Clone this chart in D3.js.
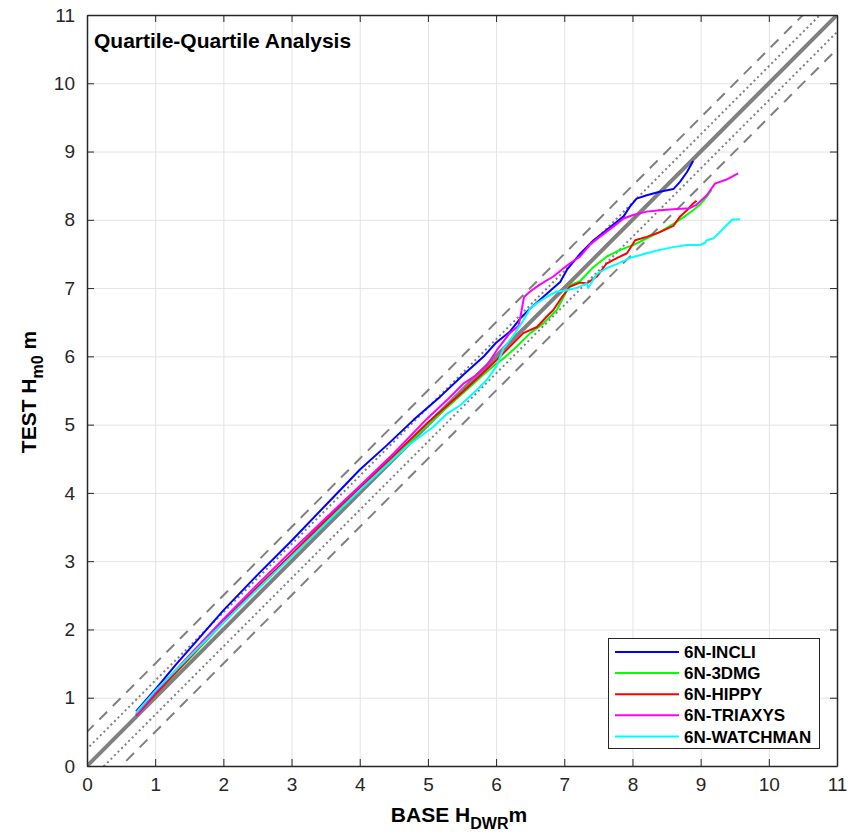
<!DOCTYPE html>
<html><head><meta charset="utf-8">
<script src="https://cdn.jsdelivr.net/npm/d3@7"></script>
<style>
body{margin:0;background:#fff}
text{font-family:"Liberation Sans",Arial,Helvetica,sans-serif}
</style>
</head><body>
<svg id="c" width="857" height="837"></svg>
<script>
// ---------- data ----------
const xTicks = [0,1,2,3,4,5,6,7,8,9,10,11];
const yTicks = [0,1,2,3,4,5,6,7,8,9,10,11];
const seriesNames = ["6N-INCLI","6N-3DMG","6N-HIPPY","6N-TRIAXYS","6N-WATCHMAN"];
const seriesColors = ["#0000ff","#00ff00","#ff0000","#ff00ff","#00ffff"];
const refOffsets = [0, 0.25, -0.25, 0.5, -0.5];

const incli = [[0.72,0.80],[0.85,0.95],[1.0,1.12],[1.3,1.48],[1.58,1.80],[2.0,2.28],[2.5,2.80],[3.0,3.30],[3.5,3.82],[4.0,4.34],[4.4,4.70],[4.79,5.07],[5.18,5.41],[5.52,5.73],[5.81,5.99],[6.0,6.2],[6.2,6.36],[6.35,6.55],[6.5,6.7],[6.69,6.87],[6.94,7.09],[7.04,7.27],[7.23,7.50],[7.43,7.70],[7.62,7.85],[7.87,8.05],[7.96,8.19],[8.06,8.31],[8.21,8.36],[8.40,8.41],[8.60,8.45],[8.70,8.56],[8.80,8.70],[8.89,8.86]];
const dmg = [[0.72,0.75],[1.0,1.05],[1.5,1.57],[2.0,2.10],[2.5,2.60],[3.0,3.08],[3.5,3.58],[4.0,4.07],[4.5,4.53],[5.0,5.0],[5.5,5.45],[5.8,5.72],[5.96,5.86],[6.11,5.97],[6.30,6.14],[6.50,6.34],[6.69,6.48],[6.89,6.68],[6.99,6.87],[7.08,7.04],[7.23,7.10],[7.43,7.31],[7.62,7.46],[7.82,7.56],[8.01,7.63],[8.21,7.73],[8.40,7.82],[8.60,7.94],[8.75,8.04],[8.89,8.14],[8.99,8.22],[9.09,8.34],[9.16,8.44]];
const hippy = [[0.72,0.74],[1.0,1.05],[1.5,1.58],[2.0,2.12],[2.5,2.62],[3.0,3.10],[3.5,3.60],[4.0,4.08],[4.5,4.55],[5.0,5.03],[5.5,5.47],[5.8,5.75],[6.01,5.95],[6.2,6.14],[6.4,6.34],[6.6,6.43],[6.74,6.58],[6.84,6.68],[6.94,6.83],[7.08,7.02],[7.23,7.08],[7.33,7.07],[7.48,7.17],[7.62,7.36],[7.77,7.44],[7.92,7.51],[8.04,7.70],[8.21,7.75],[8.40,7.82],[8.60,7.91],[8.70,8.05],[8.80,8.14],[8.89,8.24],[8.94,8.28]];
const triaxys = [[0.72,0.75],[1.0,1.08],[1.5,1.62],[2.0,2.15],[2.5,2.66],[3.0,3.15],[3.5,3.63],[4.0,4.10],[4.5,4.58],[4.98,5.08],[5.3,5.38],[5.52,5.60],[5.7,5.72],[5.86,5.86],[6.01,6.09],[6.2,6.34],[6.33,6.45],[6.37,6.65],[6.41,6.87],[6.5,6.95],[6.64,7.05],[6.84,7.17],[6.99,7.29],[7.08,7.36],[7.23,7.46],[7.38,7.64],[7.52,7.75],[7.72,7.90],[7.87,8.02],[8.01,8.07],[8.21,8.12],[8.40,8.14],[8.65,8.16],[8.84,8.17],[8.94,8.22],[9.09,8.36],[9.21,8.53],[9.38,8.59],[9.55,8.68]];
const watchman = [[0.72,0.78],[1.0,1.10],[1.5,1.60],[2.0,2.10],[2.5,2.59],[3.0,3.07],[3.5,3.55],[4.0,4.04],[4.5,4.50],[4.69,4.68],[5.08,4.97],[5.28,5.16],[5.47,5.28],[5.72,5.51],[5.86,5.65],[6.01,5.86],[6.11,6.12],[6.25,6.30],[6.40,6.53],[6.50,6.70],[6.60,6.78],[6.74,6.87],[6.89,6.95],[7.04,6.97],[7.18,7.00],[7.33,7.07],[7.35,7.00],[7.48,7.21],[7.62,7.29],[7.77,7.35],[7.96,7.44],[8.21,7.51],[8.40,7.56],[8.60,7.60],[8.80,7.63],[8.99,7.63],[9.06,7.66],[9.09,7.70],[9.19,7.73],[9.24,7.78],[9.33,7.87],[9.46,8.00],[9.58,8.01]];
const seriesData = [incli, dmg, hippy, triaxys, watchman];

// ---------- layout ----------
const L = 87, R = 837, T = 15, B = 766;
const svg = d3.select("#c");
const x = d3.scaleLinear().domain([0,11]).range([L,R]);
const y = d3.scaleLinear().domain([0,11]).range([B,T]);

svg.append("defs").append("clipPath").attr("id","clip")
  .append("rect").attr("x",L).attr("y",T).attr("width",R-L).attr("height",B-T);

// grid
const grid = svg.append("g");
grid.append("g").attr("transform",`translate(0,${B})`)
  .call(d3.axisBottom(x).tickValues(xTicks).tickSize(-(B-T)).tickFormat(""))
  .call(g=>{g.select(".domain").remove(); g.selectAll("line").attr("stroke","#e3e3e3").attr("stroke-width",1);});
grid.append("g").attr("transform",`translate(${L},0)`)
  .call(d3.axisLeft(y).tickValues(yTicks).tickSize(-(R-L)).tickFormat(""))
  .call(g=>{g.select(".domain").remove(); g.selectAll("line").attr("stroke","#e3e3e3").attr("stroke-width",1);});

// reference lines
const plot = svg.append("g").attr("clip-path","url(#clip)");
const refStyles = [
  {w:4, dash:null},
  {w:2, dash:"2,3"},
  {w:2, dash:"2,3"},
  {w:2, dash:"11,8"},
  {w:2, dash:"11,8"}
];
refOffsets.forEach((o,i)=>{
  plot.append("line")
    .attr("x1",x(-1)).attr("y1",y(-1+o))
    .attr("x2",x(12)).attr("y2",y(12+o))
    .attr("stroke","#808080").attr("stroke-width",refStyles[i].w)
    .attr("stroke-dasharray",refStyles[i].dash);
});

// series
const line = d3.line().x(d=>x(d[0])).y(d=>y(d[1]));
seriesData.forEach((s,i)=>{
  plot.append("path").attr("d",line(s)).attr("fill","none")
    .attr("stroke",seriesColors[i]).attr("stroke-width",2).attr("stroke-linejoin","round");
});

// axes (ticks inward on all four sides)
const axCol = "#262626";
function styleAxis(g){
  g.select(".domain").attr("stroke",axCol).attr("stroke-width",1.5);
  g.selectAll(".tick line").attr("stroke",axCol).attr("stroke-width",1);
  g.selectAll("text").attr("fill",axCol).style("font-size","19px");
}
svg.append("g").attr("transform",`translate(0,${B})`)
  .call(d3.axisBottom(x).tickValues(xTicks).tickSizeInner(-7).tickSizeOuter(0).tickPadding(12))
  .call(styleAxis);
svg.append("g").attr("transform",`translate(0,${T})`)
  .call(d3.axisTop(x).tickValues(xTicks).tickSizeInner(-7).tickSizeOuter(0).tickFormat(""))
  .call(styleAxis);
svg.append("g").attr("transform",`translate(${L},0)`)
  .call(d3.axisLeft(y).tickValues(yTicks).tickSizeInner(-7).tickSizeOuter(0).tickPadding(12))
  .call(styleAxis);
svg.append("g").attr("transform",`translate(${R},0)`)
  .call(d3.axisRight(y).tickValues(yTicks).tickSizeInner(-7).tickSizeOuter(0).tickFormat(""))
  .call(styleAxis);

// title inside plot
svg.append("text").attr("x",94).attr("y",48).attr("font-weight","bold")
  .style("font-size","21px").attr("fill","#000").text("Quartile-Quartile Analysis");

// axis labels
const xl = svg.append("text").attr("x",459).attr("y",822).attr("text-anchor","middle")
  .attr("font-weight","bold").style("font-size","21px").attr("fill","#000");
xl.append("tspan").text("BASE H");
xl.append("tspan").attr("dy",7).style("font-size","16px").text("DWR");
xl.append("tspan").attr("dy",-7).text("m");

const yl = svg.append("text").attr("transform","translate(36,392) rotate(-90)").attr("text-anchor","middle")
  .attr("font-weight","bold").style("font-size","21px").attr("fill","#000");
yl.append("tspan").text("TEST H");
yl.append("tspan").attr("dy",7).style("font-size","16px").text("m0");
yl.append("tspan").attr("dy",-7).text(" m");

// legend
const lg = svg.append("g");
lg.append("rect").attr("x",608.5).attr("y",638.5).attr("width",211).attr("height",110)
  .attr("fill","#fff").attr("stroke",axCol).attr("stroke-width",1);
seriesNames.forEach((n,i)=>{
  const yy = 652 + i*21.1;
  lg.append("line").attr("x1",615).attr("x2",679).attr("y1",yy).attr("y2",yy)
    .attr("stroke",seriesColors[i]).attr("stroke-width",2);
  lg.append("text").attr("x",684).attr("y",yy).attr("dy","0.36em")
    .attr("font-weight","bold").style("font-size","17px").attr("fill","#000").text(n);
});
</script>
</body></html>
